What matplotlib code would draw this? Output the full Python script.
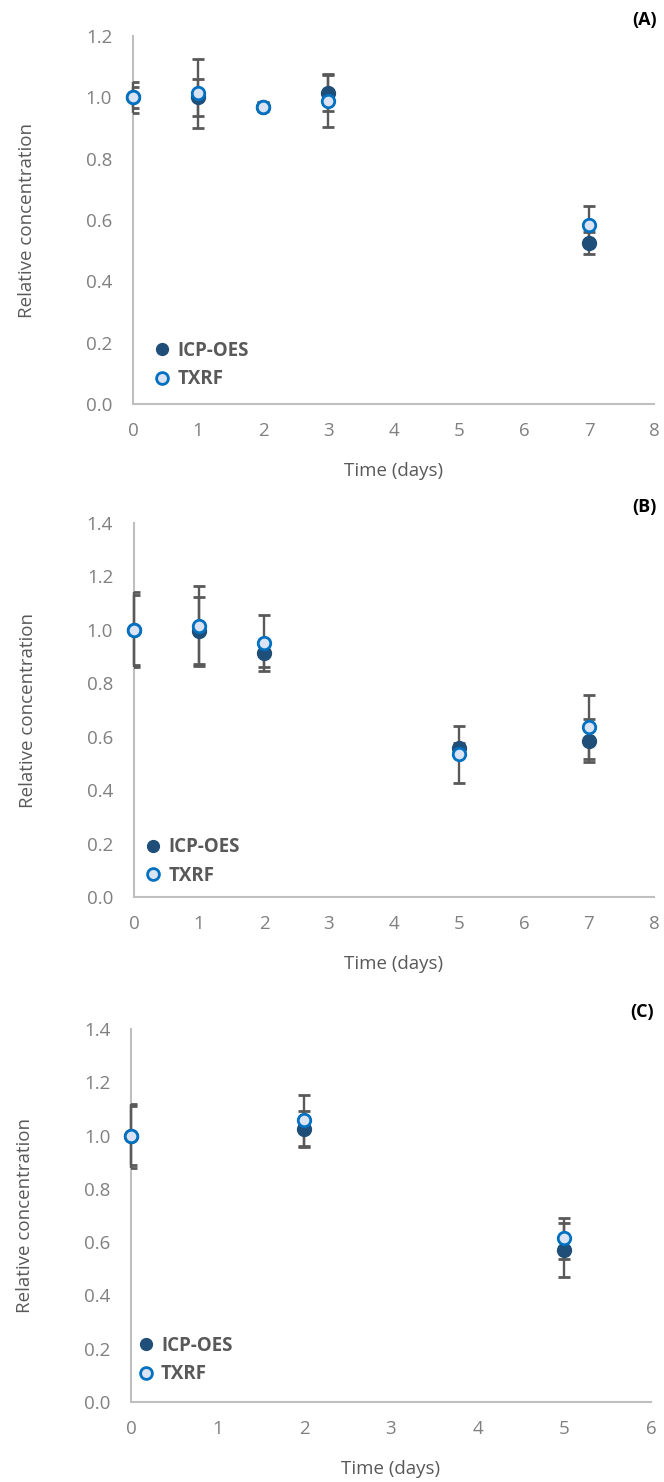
import matplotlib
matplotlib.use("Agg")
import matplotlib.pyplot as plt

plt.rcParams["font.family"] = ["Open Sans", "DejaVu Sans"]

# panel A
days_a = [0, 1, 2, 3, 7]
icp_a = [1.00, 1.00, 0.97, 1.015, 0.525]
icp_a_err = [0.05, 0.06, 0.01, 0.06, 0.035]
txrf_a = [1.00, 1.013, 0.97, 0.988, 0.585]
txrf_a_err = [0.035, 0.113, 0.015, 0.085, 0.06]

# panel B
days_b = [0, 1, 2, 5, 7]
icp_b = [1.00, 0.997, 0.912, 0.557, 0.585]
icp_b_err = [0.14, 0.125, 0.05, 0.02, 0.08]
txrf_b = [1.00, 1.013, 0.952, 0.534, 0.637]
txrf_b_err = [0.13, 0.15, 0.105, 0.107, 0.12]

# panel C
days_c = [0, 2, 5]
icp_c = [1.00, 1.024, 0.570]
icp_c_err = [0.12, 0.068, 0.10]
txrf_c = [1.00, 1.057, 0.614]
txrf_c_err = [0.11, 0.095, 0.077]

ICP_COLOR = "#1f4e79"
TXRF_EDGE = "#0070c0"
TXRF_FILL = "#dae3f3"
ERR_COLOR = "#595959"
SPINE = "#bfbfbf"
TICK = "#808080"

fig = plt.figure(figsize=(6.64, 14.82), dpi=100)

panels = [
    ("(A)", [0.2003, 0.7274, 0.785, 0.2483], days_a, icp_a, icp_a_err, txrf_a, txrf_a_err, 8, 1.2, (0.038, 0.040)),
    ("(B)", [0.2018, 0.3947, 0.783, 0.2524], days_b, icp_b, icp_b_err, txrf_b, txrf_b_err, 8, 1.4, (0.019, 0.030)),
    ("(C)", [0.1973, 0.0540, 0.783, 0.2517], days_c, icp_c, icp_c_err, txrf_c, txrf_c_err, 6, 1.4, (0.011, 0.048)),
]


def _errbars(ax, x, y, err):
    _, caps, bars = ax.errorbar(x, y, yerr=err, fmt="none", ecolor=ERR_COLOR,
                                elinewidth=1.7, capsize=4.5, capthick=2.0, zorder=3)
    for b in bars:
        b.set_clip_on(False)


for label, rect, days, icp, icp_err, txrf, txrf_err, xmax, ymax, leg_xy in panels:
    ax = fig.add_axes(rect)
    _errbars(ax, days, icp, icp_err)
    _errbars(ax, days, txrf, txrf_err)
    ax.plot(days, icp, "o", ms=10, color=ICP_COLOR, mec=ICP_COLOR,
            label="ICP-OES", zorder=4, clip_on=False)
    ax.plot(days, txrf, "o", ms=9, mfc=TXRF_FILL, mec=TXRF_EDGE, mew=2.0,
            label="TXRF", zorder=5, clip_on=False)

    ax.set_xlim(0, xmax)
    ax.set_ylim(0, ymax)
    ax.set_xticks(range(0, xmax + 1))
    yt = [i * 0.2 for i in range(int(round(ymax / 0.2)) + 1)]
    ax.set_yticks(yt)
    ax.set_yticklabels([f"{v:.1f}" for v in yt])
    ax.tick_params(length=0, labelsize=13.5, colors=TICK)
    ax.tick_params(axis="x", pad=13)
    ax.tick_params(axis="y", pad=15)
    for s in ["top", "right"]:
        ax.spines[s].set_visible(False)
    for s in ["left", "bottom"]:
        ax.spines[s].set_color(SPINE)
        ax.spines[s].set_linewidth(1.5)
    ax.set_xlabel("Time (days)", fontsize=13.5, color="#595959", labelpad=16)
    ax.set_ylabel("Relative concentration", fontsize=13.5, color="#595959", labelpad=36)

    leg = ax.legend(loc="lower left", bbox_to_anchor=leg_xy, frameon=False,
                    prop={"weight": "bold", "size": 13.5}, handletextpad=0.3,
                    labelspacing=0.45, handlelength=1.0, borderaxespad=0.0,
                    borderpad=0.0)
    for t in leg.get_texts():
        t.set_color("#595959")
    for h in leg.legend_handles:
        h.set_markersize(8.5)

    ax.text(1.005, 1.02, label, transform=ax.transAxes, ha="right", va="bottom",
            fontsize=13, fontweight="bold", color="black")

fig.savefig("out.png", dpi=100)
